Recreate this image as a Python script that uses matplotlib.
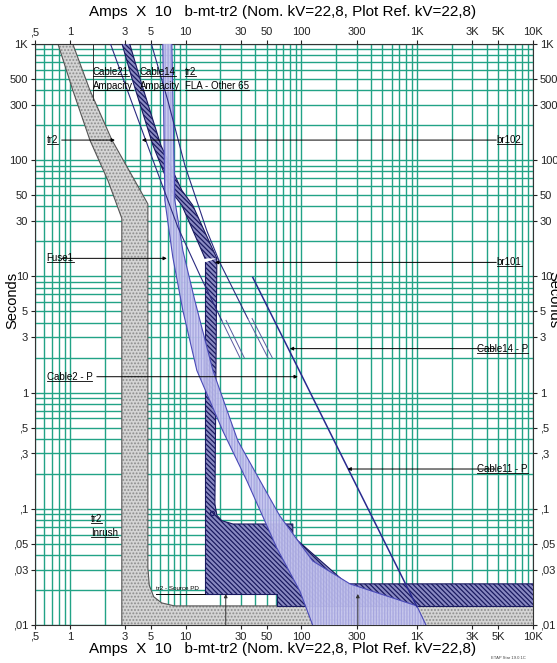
import matplotlib
matplotlib.use("Agg")
import matplotlib.pyplot as plt
from matplotlib.patches import Polygon
from matplotlib.lines import Line2D
from matplotlib.ticker import LogLocator, NullFormatter
import numpy as np

plt.rcParams['font.family'] = ['Liberation Sans', 'DejaVu Sans']
plt.rcParams['hatch.linewidth'] = 0.9

# axes
x_ticks = [0.5, 1, 3, 5, 10, 30, 50, 100, 300, 1000, 3000, 5000, 10000]
x_labels = [",5", "1", "3", "5", "10", "30", "50", "100", "300", "1K", "3K", "5K", "10K"]
y_ticks = [0.01, 0.03, 0.05, 0.1, 0.3, 0.5, 1, 3, 5, 10, 30, 50, 100, 300, 500, 1000]
y_labels = [",01", ",03", ",05", ",1", ",3", ",5", "1", "3", "5", "10", "30", "50", "100", "300", "500", "1K"]
title = "Amps  X  10   b-mt-tr2 (Nom. kV=22,8, Plot Ref. kV=22,8)"

# tr2 damage band (amps x10, seconds)
tr2_left_amps = [0.727, 0.79, 1.06, 1.49, 2.13, 2.81, 2.81, 12000]
tr2_left_sec = [1300, 1000, 400, 149, 67, 31.6, 0.009, 0.009]
tr2_right_amps = [0.98, 1.06, 1.49, 2.31, 3.43, 4.72, 4.72, 4.85, 5.3, 6.2, 8.0, 12000]
tr2_right_sec = [1300, 1000, 400, 149, 74, 42, 0.031, 0.022, 0.0175, 0.0155, 0.0146, 0.0146]

# br101 breaker band
br101_min_amps = [14.7, 14.7, 61.3, 61.3, 12000]
br101_min_sec = [13.2, 0.0185, 0.0185, 0.0146, 0.0146]
br101_max_amps = [18.6, 17.9, 18.6, 20.5, 25.6, 84.3, 84.3, 247, 12000]
br101_max_sec = [14.3, 0.11, 0.088, 0.079, 0.074, 0.074, 0.058, 0.0226, 0.0226]

# Fuse1 band
fuse_mm_amps = [6.3, 6.35, 6.61, 7.75, 9.46, 12.5, 20.9, 33.8, 61.3, 96.9, 130]
fuse_mm_sec = [1300, 1000, 45.2, 14.6, 5.09, 1.55, 0.47, 0.174, 0.046, 0.0196, 0.009]
fuse_tc_amps = [7.55, 7.6, 8.07, 9.46, 12.0, 17.2, 28.2, 39.6, 65, 125, 262, 993, 1250]
fuse_tc_sec = [1300, 1000, 45.2, 16.7, 6.21, 1.55, 0.386, 0.21, 0.087, 0.0356, 0.0226, 0.0146, 0.009]

# cable damage band
cab_left_amps = [2.75, 3.43, 5.21, 7.6, 9.27, 14.7]
cab_left_sec = [1100, 509, 135, 53, 41, 14.3]
cab_right_amps = [3.2, 4.02, 6.1, 9.27, 11.5, 18.6]
cab_right_sec = [1100, 509, 135, 55, 41, 14.3]

# thin cable curves + hollow ends
t1_amps = [2.1, 3.30, 5.42, 8.57, 13.3, 20.5]
t1_sec = [1200, 349, 90.6, 26.5, 10.2, 4.18]
t1_end_amps = [20.5, 29.4]
t1_end_sec = [4.18, 2.0]
t2_amps = [4.8, 7.0, 9.84, 15.2, 19.7, 34.4]
t2_sec = [1200, 329, 90.6, 24.9, 13.2, 4.34]
t2_end_amps = [34.4, 51.3]
t2_end_sec = [4.34, 2.0]

# Cable11 / Cable14 / Cable2 - P line
cp_amps = [38.0, 100, 300, 993]
cp_sec = [9.8, 1.42, 0.157, 0.0144]

amp_line_amps = [1.58, 1.58]
amp_line_sec = [1000, 330]

# leader labels: text, text x, text y, tip x, tip y, side
leaders = [
    ("tr2", 0.63, 149, 2.45, 149, "l"),
    ("br102", 4870, 149, 4.18, 149, "r"),
    ("Fuse1", 0.63, 14.3, 6.88, 14.3, "l"),
    ("br101", 4870, 13.2, 17.9, 13.2, "r"),
    ("Cable14 - P", 3300, 2.39, 79.4, 2.39, "r"),
    ("Cable2 - P", 0.63, 1.37, 93.1, 1.37, "l"),
    ("Cable11 - P", 3300, 0.22, 250, 0.22, "r"),
]
sc_marks = [22.2, 307]

fig = plt.figure(figsize=(5.57, 6.63), dpi=100)
ax = fig.add_axes([35/557, 38/663, 498/557, 581/663])
ax.set_xscale('log')
ax.set_yscale('log')
ax.set_xlim(0.5, 10000)
ax.set_ylim(0.01, 1000)

teal = '#22a386'
ax.xaxis.set_minor_locator(LogLocator(base=10, subs=np.arange(2, 10), numticks=100))
ax.yaxis.set_minor_locator(LogLocator(base=10, subs=np.arange(2, 10), numticks=100))
ax.xaxis.set_minor_formatter(NullFormatter())
ax.yaxis.set_minor_formatter(NullFormatter())
ax.set_xticks(x_ticks, x_labels)
ax.set_yticks(y_ticks, y_labels)
ax.grid(which='both', color=teal, lw=1.0, zorder=0)
ax.set_axisbelow(True)
ax.tick_params(which='minor', length=0)
ax.tick_params(which='major', length=3, labelsize=8, colors='#222222',
               top=True, labeltop=True, right=True, labelright=True, pad=2)
for s in ax.spines.values():
    s.set_color('#333333')


def band(la, ls, ra, rs, face, hatch, hcol, ecol, z, alpha=1.0):
    pts = list(zip(la, ls)) + list(zip(ra, rs))[::-1]
    ax.add_patch(Polygon(pts, closed=True, facecolor=face, edgecolor='none', zorder=z, alpha=alpha))
    ax.add_patch(Polygon(pts, closed=True, facecolor='none', edgecolor=hcol, hatch=hatch, lw=0, zorder=z, alpha=alpha))
    ax.plot(la, ls, color=ecol, lw=0.8, zorder=z + 0.1)
    ax.plot(ra, rs, color=ecol, lw=0.8, zorder=z + 0.1)


dense_diag = '\\' * 7
band(tr2_left_amps, tr2_left_sec, tr2_right_amps, tr2_right_sec,
     '#d4d4d4', '.....', '#8c8c8c', '#555555', 2)
band(br101_min_amps, br101_min_sec, br101_max_amps, br101_max_sec,
     '#8a8ac2', dense_diag, '#1a1a60', '#1a1a60', 3)
band(cab_left_amps, cab_left_sec, cab_right_amps, cab_right_sec,
     '#8a8ac2', dense_diag, '#1a1a60', '#1a1a60', 3)
band(fuse_mm_amps, fuse_mm_sec, fuse_tc_amps, fuse_tc_sec,
     '#c6c6ef', '|' * 6, '#a4a4de', '#4a4ab8', 4, alpha=0.92)

ax.plot(t1_amps, t1_sec, color='#2a2a80', lw=0.8, zorder=5)
ax.plot(t2_amps, t2_sec, color='#2a2a80', lw=0.8, zorder=5)
for ea, es in [(t1_end_amps, t1_end_sec), (t2_end_amps, t2_end_sec)]:
    ax.plot(ea, es, color='#5a5aa0', lw=0.7, zorder=5)
    ax.plot([a * 1.09 for a in ea], es, color='#5a5aa0', lw=0.7, zorder=5)
ax.plot(cp_amps, cp_sec, color='#2a2a90', lw=1.1, zorder=5)
ax.plot(amp_line_amps, amp_line_sec, color='#333333', lw=0.7, zorder=5)
ax.plot([16.8], [0.0925], marker='o', ms=3, mfc='none', mec='#1e1e6a', zorder=6)

texts = []
for name, tx, ty, px, py, side in leaders:
    t = ax.text(tx, ty, name, fontsize=7, ha='left', va='center', zorder=8)
    texts.append(t)
    start = 0.85 if side == 'l' else 4870 * (0.99 if name in ('br102', 'br101') else 0.97)
    if name.startswith('Cable2'):
        start = 1.71
    ax.annotate('', xy=(px, py), xytext=(start, py), zorder=7,
                arrowprops=dict(arrowstyle='-|>', lw=0.7, color='black', mutation_scale=5,
                                shrinkA=0, shrinkB=0))

for name, tx, ty in [("Cable21", 1.58, 574), ("Cable14", 4.02, 574), ("tr2", 9.84, 574),
                     ("Ampacity", 1.58, 434), ("Ampacity", 4.02, 434), ("FLA - Other 65", 9.84, 434)]:
    texts.append(ax.text(tx, ty, name, fontsize=7, ha='left', va='center', zorder=8))
texts.append(ax.text(1.52, 0.082, "tr2", fontsize=7, ha='left', va='center', zorder=8))
texts.append(ax.text(1.52, 0.062, "Inrush", fontsize=7, ha='left', va='center', zorder=8))
ax.text(5.6, 0.0205, "tr2 - Source PD", fontsize=4.5, ha='left', va='center', zorder=8)
ax.plot([5.6, 14.7], [0.0185, 0.0185], color='black', lw=0.7, zorder=7)
for m in sc_marks:
    ax.annotate('', xy=(m, 0.0185), xytext=(m, 0.01), zorder=7,
                arrowprops=dict(arrowstyle='-|>', lw=0.7, color='#333333', mutation_scale=5,
                                shrinkA=0, shrinkB=0))

fig.text(283/557, 1 - 12/663, title, fontsize=11, ha='center', va='center')
fig.text(283/557, 1 - 649/663, title, fontsize=11, ha='center', va='center')
fig.text(12/557, 1 - 300/663, "Seconds", fontsize=10.5, rotation=90, ha='center', va='center')
fig.text(553/557, 1 - 300/663, "Seconds", fontsize=10.5, rotation=270, ha='center', va='center')
fig.text(491/557, 1 - 658/663, "ETAP Star 19.0.1C", fontsize=3, ha='left', va='center', color='#444444')

# underline labels
fig.canvas.draw()
r = fig.canvas.get_renderer()
inv = fig.transFigure.inverted()
for t in texts:
    bb = t.get_window_extent(renderer=r)
    (x0, y0), (x1, _) = inv.transform([(bb.x0, bb.y0 + 1), (bb.x1, bb.y0 + 1)])
    fig.add_artist(Line2D([x0, x1], [y0, y0], transform=fig.transFigure, lw=0.6, color='black'))

fig.savefig("out.png", dpi=100)
